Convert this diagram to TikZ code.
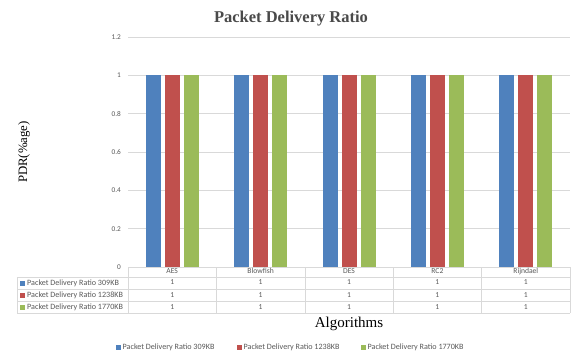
\documentclass[tikz,border=0pt]{standalone}
\usepackage{fontspec}
\setmainfont{Liberation Serif}
\newfontfamily\calfont{Carlito}
\definecolor{cblue}{HTML}{4F81BD}
\definecolor{cred}{HTML}{C0504D}
\definecolor{cgreen}{HTML}{9BBB59}
\definecolor{grid}{HTML}{D9D9D9}
\definecolor{txt}{HTML}{595959}
\definecolor{ttl}{HTML}{4A4A4A}
\begin{document}
\begin{tikzpicture}[x=1pt,y=-1pt,
  tick/.style={font=\calfont\fontsize{7.3}{7.3}\selectfont,text=txt,anchor=east,inner sep=0pt},
  cell/.style={font=\calfont\fontsize{7.6}{7.6}\selectfont,text=txt,inner sep=0pt,text height=5.2pt,text depth=1.5pt},
  lab/.style={font=\calfont\fontsize{8.1}{8.1}\selectfont,text=txt,anchor=west,inner sep=0pt},
  tline/.style={draw=grid,line width=0.6pt}]
\useasboundingbox (0,0) rectangle (572,354);
\fill[white] (0,0) rectangle (572,354);
% title
\node[font=\bfseries\fontsize{16.5}{17}\selectfont,text=ttl] (title) at (291,19) {Packet Delivery Ratio};
% gridlines and ticks
\foreach \v/\t in {0/0,1/0.2,2/0.4,3/0.6,4/0.8,5/1,6/1.2}{
  \draw[grid,line width=0.6pt] (128,{267-38.33*\v}) -- (570,{267-38.33*\v});
  \node[tick] (tk\v) at (121,{267-38.33*\v}) {\t};
}
% bars
\foreach \i in {0,...,4}{
  \pgfmathsetmacro{\c}{172.2+88.4*\i}
  \fill[cblue] (\c-26.5,75.3) rectangle (\c-11.5,267);
  \fill[cred] (\c-7.5,75.3) rectangle (\c+7.5,267);
  \fill[cgreen] (\c+11.5,75.3) rectangle (\c+26.5,267);
}
% table
\draw[tline] (128,267) -- (570,267);
\foreach \y in {277,289,301.5,313}{\draw[tline] (17,\y) -- (570,\y);}
\draw[tline] (17,277) -- (17,313);
\foreach \i in {0,...,5}{\draw[tline] ({128+88.4*\i},267) -- ({128+88.4*\i},313);}
\foreach \n [count=\i from 0] in {AES,Blowfish,DES,RC2,Rijndael}{
  \pgfmathsetmacro{\c}{172.2+88.4*\i}
  \node[cell] (h\i) at (\c,272) {\n};
  \node[cell] (ra\i) at (\c,283) {1};
  \node[cell] (rb\i) at (\c,295.3) {1};
  \node[cell] (rc\i) at (\c,307.3) {1};
}
\fill[cblue] (19.5,281) rectangle (24.5,285.5);
\node[lab] (la) at (27,283.2) {Packet Delivery Ratio 309KB};
\fill[cred] (19.5,293.2) rectangle (24.5,297.7);
\node[lab] (lb) at (27,295.5) {Packet Delivery Ratio 1238KB};
\fill[cgreen] (19.5,305.2) rectangle (24.5,309.7);
\node[lab] (lc) at (27,307.5) {Packet Delivery Ratio 1770KB};
% axis titles
\node[font=\fontsize{15}{15}\selectfont] (xt) at (349,323.5) {Algorithms};
\node[font=\fontsize{12.8}{13}\selectfont,rotate=90] (yt) at (24,152) {PDR(\%age)};
% legend
\fill[cblue] (116,345) rectangle (120.5,349.5);
\node[lab] (ga) at (122.5,347.4) {Packet Delivery Ratio 309KB};
\fill[cred] (237,345) rectangle (241.5,349.5);
\node[lab] (gb) at (243.5,347.4) {Packet Delivery Ratio 1238KB};
\fill[cgreen] (361,345) rectangle (365.5,349.5);
\node[lab] (gc) at (367.5,347.4) {Packet Delivery Ratio 1770KB};
\end{tikzpicture}
\end{document}
